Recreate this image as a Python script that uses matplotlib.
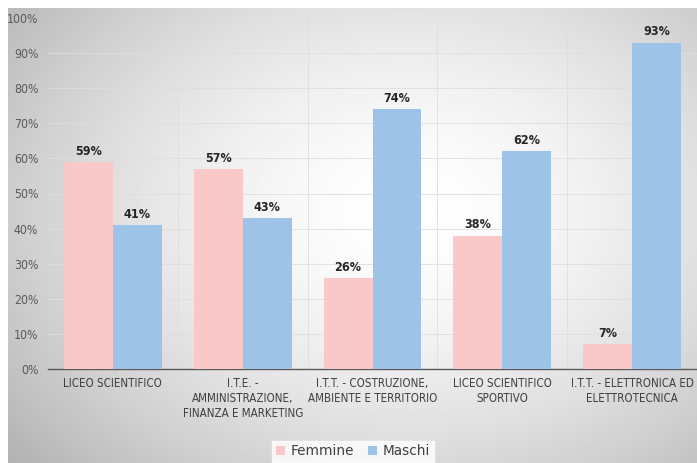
import matplotlib.pyplot as plt
import numpy as np

categories = [
    "LICEO SCIENTIFICO",
    "I.T.E. -\nAMMINISTRAZIONE,\nFINANZA E MARKETING",
    "I.T.T. - COSTRUZIONE,\nAMBIENTE E TERRITORIO",
    "LICEO SCIENTIFICO\nSPORTIVO",
    "I.T.T. - ELETTRONICA ED\nELETTROTECNICA",
]
femmine = [59, 57, 26, 38, 7]
maschi = [41, 43, 74, 62, 93]

pink = "#f9c9ca"
blue = "#9dc3e6"

W, H = 697, 463
fig = plt.figure(figsize=(W / 100, H / 100), dpi=100)

# radial grey-to-white backdrop
bg = fig.add_axes([8 / W, 0, 1 - 8 / W, 1 - 8 / H])
yy, xx = np.mgrid[0:1:300j, 0:1:450j]
r = np.sqrt(((xx - 0.58) / 0.75) ** 2 + ((yy - 0.55) / 0.85) ** 2)
shade = 1.0 - 0.3 * np.clip(r, 0, 1) ** 1.6
bg.imshow(shade, cmap="gray", vmin=0, vmax=1, extent=[0, 1, 0, 1],
          aspect="auto", origin="lower")
bg.axis("off")

ax = fig.add_axes([48 / W, (H - 369) / H, (W - 48) / W, 351 / H])
ax.patch.set_alpha(0)

x = np.arange(len(categories))
bw = 0.377
b1 = ax.bar(x - bw / 2, femmine, bw, color=pink, label="Femmine", zorder=3)
b2 = ax.bar(x + bw / 2, maschi, bw, color=blue, label="Maschi", zorder=3)

for bars, vals in ((b1, femmine), (b2, maschi)):
    for b, v in zip(bars, vals):
        ax.text(b.get_x() + b.get_width() / 2, v + 1.2, f"{v}%",
                ha="center", va="bottom", fontsize=9, fontweight="bold",
                fontstretch="condensed", color="#262626")

ax.set_xlim(-0.5, 4.5)
ax.set_ylim(0, 100)
ax.set_yticks(range(0, 101, 10))
ax.set_yticklabels([f"{v}%" for v in range(0, 101, 10)], fontsize=8.8,
                   fontstretch="condensed", color="#595959")
ax.set_xticks(x)
ax.set_xticklabels(categories, fontsize=8.3, fontstretch="condensed",
                   color="#404040", linespacing=1.2)
ax.tick_params(length=0, pad=7)
ax.tick_params(axis="x", pad=6)

for y in range(10, 100, 10):
    ax.axhline(y, color="#dedede", lw=0.6, zorder=1)
for xv in np.arange(0.5, 4.5, 1):
    ax.axvline(xv, color="#dedede", lw=0.6, zorder=1)

for s in ("top", "right", "left"):
    ax.spines[s].set_visible(False)
ax.spines["bottom"].set_color("#595959")
ax.spines["bottom"].set_linewidth(1)

leg = fig.legend(loc="lower center", bbox_to_anchor=(353 / W, -0.012), ncol=2,
                 frameon=True, fancybox=False, edgecolor="white",
                 fontsize=9.8, handlelength=0.7, handleheight=0.7,
                 handletextpad=0.4, columnspacing=1.0, borderpad=0.25)
for t in leg.get_texts():
    t.set_color("#404040")

fig.savefig("out.png", dpi=100)
